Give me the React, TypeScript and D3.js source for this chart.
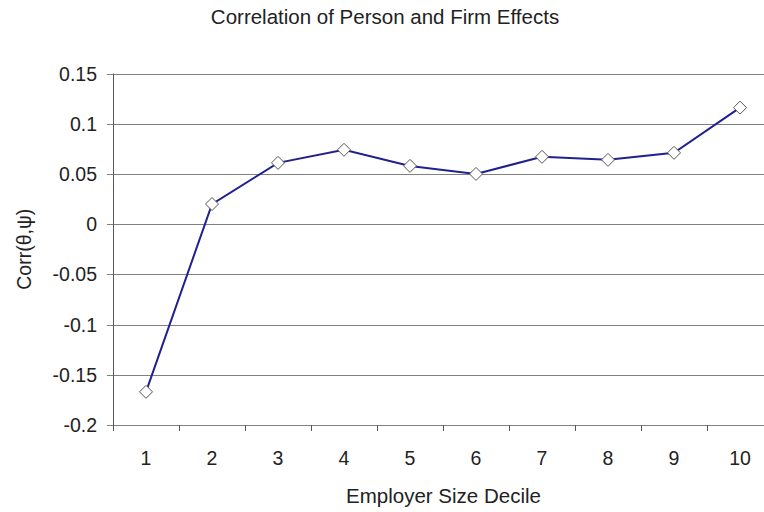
import React, { useEffect, useRef } from 'react';
import * as d3 from 'd3';

const deciles = ['1', '2', '3', '4', '5', '6', '7', '8', '9', '10'];
const corrValues = [-0.167, 0.02, 0.061, 0.074, 0.058, 0.05, 0.067, 0.064, 0.071, 0.116];
const yTicks = [-0.2, -0.15, -0.1, -0.05, 0, 0.05, 0.1, 0.15];
const yTickLabels = ['-0.2', '-0.15', '-0.1', '-0.05', '0', '0.05', '0.1', '0.15'];

const width = 764;
const height = 512;

export default function App() {
  const svgRef = useRef<SVGSVGElement>(null);

  useEffect(() => {
    if (!svgRef.current) return;
    const svg = d3.select(svgRef.current);
    svg.selectAll('*').remove();

    const left = 113;
    const right = 773;
    const top = 73.5;
    const bottom = 425;
    const font = '"Liberation Sans", Arial, sans-serif';

    const x = d3.scaleBand().domain(deciles).range([left, right]);
    const y = d3.scaleLinear().domain([-0.2, 0.15]).range([bottom, top]);

    svg.append('rect').attr('width', width).attr('height', height).attr('fill', '#fff');

    // gridlines
    svg.append('g')
      .selectAll('line')
      .data(yTicks)
      .enter()
      .append('line')
      .attr('x1', left - 6)
      .attr('x2', right)
      .attr('y1', d => Math.round(y(d)) + 0.5)
      .attr('y2', d => Math.round(y(d)) + 0.5)
      .attr('stroke', '#808080')
      .attr('stroke-width', 1);

    // y axis line
    svg.append('line')
      .attr('x1', left + 0.5).attr('x2', left + 0.5)
      .attr('y1', top).attr('y2', bottom + 6)
      .attr('stroke', '#555');

    // x ticks at band boundaries
    const bounds = deciles.map(d => x(d) || 0);
    svg.append('g')
      .selectAll('line')
      .data(bounds.slice(1))
      .enter()
      .append('line')
      .attr('x1', d => Math.round(d) + 0.5)
      .attr('x2', d => Math.round(d) + 0.5)
      .attr('y1', Math.round(bottom))
      .attr('y2', Math.round(bottom) + 6)
      .attr('stroke', '#555');

    // y tick labels
    svg.append('g')
      .selectAll('text')
      .data(yTicks)
      .enter()
      .append('text')
      .attr('x', 97)
      .attr('y', d => y(d) + 7)
      .attr('text-anchor', 'end')
      .attr('font-family', font)
      .attr('font-size', 19.5)
      .attr('fill', '#222')
      .text((_, i) => yTickLabels[i]);

    // x tick labels
    svg.append('g')
      .selectAll('text')
      .data(deciles)
      .enter()
      .append('text')
      .attr('x', d => (x(d) || 0) + x.bandwidth() / 2)
      .attr('y', 465)
      .attr('text-anchor', 'middle')
      .attr('font-family', font)
      .attr('font-size', 19.5)
      .attr('fill', '#222')
      .text(d => d);

    // line
    const line = d3.line<number>()
      .x((_, i) => (x(deciles[i]) || 0) + x.bandwidth() / 2)
      .y(d => y(d));

    svg.append('path')
      .datum(corrValues)
      .attr('d', line)
      .attr('fill', 'none')
      .attr('stroke', '#20208f')
      .attr('stroke-width', 2);

    // diamond markers
    const s = 6.5;
    svg.append('g')
      .selectAll('path')
      .data(corrValues)
      .enter()
      .append('path')
      .attr('transform', (d, i) => `translate(${(x(deciles[i]) || 0) + x.bandwidth() / 2},${y(d)})`)
      .attr('d', `M0,${-s}L${s},0L0,${s}L${-s},0Z`)
      .attr('fill', '#fff')
      .attr('stroke', '#555')
      .attr('stroke-width', 1);

    // title
    svg.append('text')
      .attr('x', 385)
      .attr('y', 24)
      .attr('text-anchor', 'middle')
      .attr('font-family', font)
      .attr('font-size', 20.5)
      .attr('fill', '#222')
      .text('Correlation of Person and Firm Effects');

    // axis titles
    svg.append('text')
      .attr('x', 443.5)
      .attr('y', 503)
      .attr('text-anchor', 'middle')
      .attr('font-family', font)
      .attr('font-size', 20.5)
      .attr('fill', '#222')
      .text('Employer Size Decile');

    svg.append('text')
      .attr('transform', `translate(31,${(top + bottom) / 2}) rotate(-90)`)
      .attr('text-anchor', 'middle')
      .attr('font-family', font)
      .attr('font-size', 19.5)
      .attr('fill', '#222')
      .text('Corr(θ,ψ)');
  }, []);

  return (
    <svg
      ref={svgRef}
      width={width}
      height={height}
      style={{ position: 'absolute', left: 0, top: 0, display: 'block' }}
    />
  );
}
